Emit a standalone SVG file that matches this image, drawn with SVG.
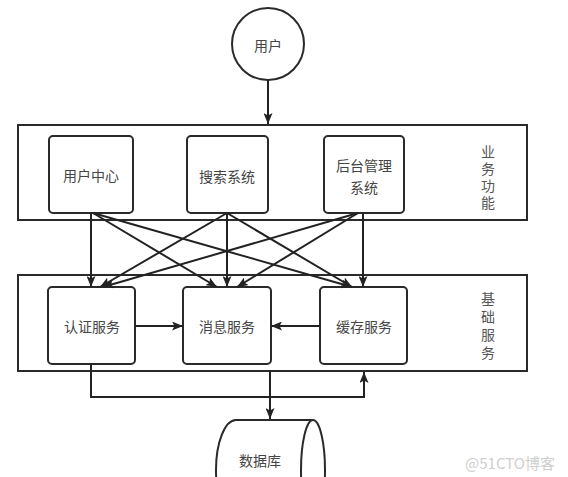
<svg xmlns="http://www.w3.org/2000/svg" width="568" height="477" viewBox="0 0 568 477">
<defs>
<marker id="arr" viewBox="0 0 11 9" refX="11" refY="4.5" markerWidth="11" markerHeight="9" markerUnits="userSpaceOnUse" orient="auto">
<path d="M0,0 L11,4.5 L0,9 L2.5,4.5 z" fill="#222"/>
</marker>
<style>
.box{fill:#fff;stroke:#2a2a2a;stroke-width:2}
.inner{fill:#fff;stroke:#2a2a2a;stroke-width:2}
.t{font-family:"Noto Sans CJK SC","Noto Sans",sans-serif;font-size:14px;fill:#444;text-anchor:middle;dominant-baseline:central}
.lbl{font-family:"Noto Sans CJK SC","Noto Sans",sans-serif;font-size:14px;fill:#555;writing-mode:vertical-rl}
.e{fill:none;stroke:#222;stroke-width:2}
</style>
</defs>
<rect width="568" height="477" fill="#fff"/>

<g id="user">
<circle cx="268" cy="44" r="36" class="inner"/>
<text x="268" y="45" class="t">用户</text>
</g>

<g id="business">
<rect x="18" y="125" width="509" height="95" class="box"/>
<text x="488" y="145" class="lbl" letter-spacing="3">业务功能</text>
</g>
<g id="usercenter">
<rect x="49" y="136" width="84" height="77" rx="4" class="inner"/>
<text x="91" y="175" class="t">用户中心</text>
</g>
<g id="search">
<rect x="187" y="136" width="81" height="77" rx="4" class="inner"/>
<text x="227" y="176" class="t">搜索系统</text>
</g>
<g id="admin">
<rect x="324" y="136" width="80" height="77" rx="4" class="inner"/>
<text class="t"><tspan x="364" y="165">后台管理</tspan><tspan x="364" y="187">系统</tspan></text>
</g>

<g id="base">
<rect x="18" y="275" width="509" height="96" class="box"/>
<text x="488" y="292" class="lbl" letter-spacing="4">基础服务</text>
</g>
<g id="auth">
<rect x="48" y="287" width="87" height="77" rx="4" class="inner"/>
<text x="92" y="326" class="t">认证服务</text>
</g>
<g id="msg">
<rect x="183" y="287" width="88" height="77" rx="4" class="inner"/>
<text x="227" y="326" class="t">消息服务</text>
</g>
<g id="cache">
<rect x="320" y="287" width="87" height="77" rx="4" class="inner"/>
<text x="364" y="326" class="t">缓存服务</text>
</g>

<g id="db">
<path d="M236,420 L313,420 A12,50 0 0 1 313,520 L236,520 A20,50 0 0 1 236,420 z" fill="#fff" stroke="#2a2a2a" stroke-width="2"/>
<path d="M313,420 A12,50 0 0 0 313,520" fill="none" stroke="#2a2a2a" stroke-width="2"/>
<text x="260" y="460" class="t">数据库</text>
</g>

<g id="connectors">
<path d="M268,80 L268,124" class="e" marker-end="url(#arr)"/>
<path d="M91,213 L91,287" class="e" marker-end="url(#arr)"/>
<path d="M93,213 L217,287" class="e" marker-end="url(#arr)"/>
<path d="M93,213 L352,287" class="e" marker-end="url(#arr)"/>
<path d="M227,213 L100,287" class="e" marker-end="url(#arr)"/>
<path d="M227,213 L227,287" class="e" marker-end="url(#arr)"/>
<path d="M227,213 L352,287" class="e" marker-end="url(#arr)"/>
<path d="M358,213 L103,287" class="e" marker-end="url(#arr)"/>
<path d="M358,213 L237,287" class="e" marker-end="url(#arr)"/>
<path d="M363,213 L363,287" class="e" marker-end="url(#arr)"/>
<path d="M135,326 L183,326" class="e" marker-end="url(#arr)"/>
<path d="M320,326 L271,326" class="e" marker-end="url(#arr)"/>
<path d="M91,364 L91,397 L364,397 L364,372" class="e" marker-end="url(#arr)"/>
<path d="M270,371 L270,419" class="e" marker-end="url(#arr)"/>
</g>

<text x="510" y="462" font-family="'Noto Sans CJK SC','Noto Sans',sans-serif" font-size="15" fill="#cfcfcf" text-anchor="middle" dominant-baseline="central">@51CTO博客</text>
</svg>
